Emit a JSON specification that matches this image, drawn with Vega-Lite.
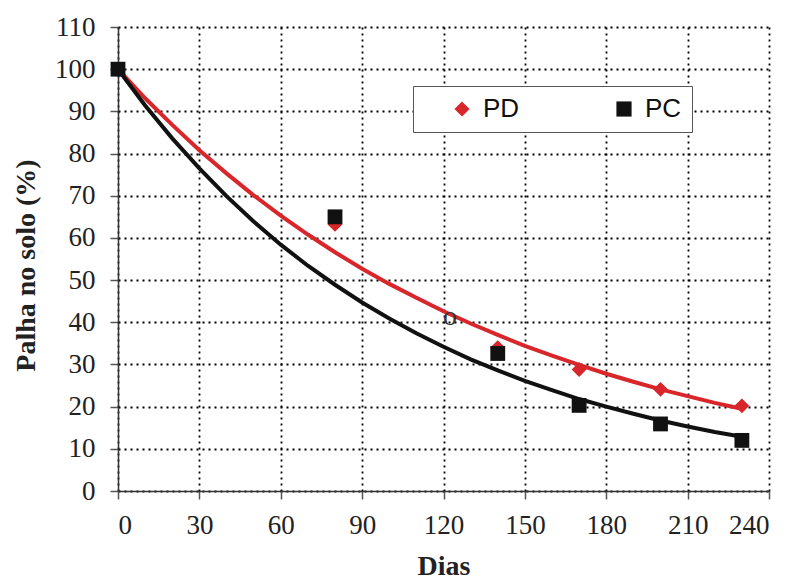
{
  "$schema": "https://vega.github.io/schema/vega-lite/v6.json",
  "width": 651,
  "height": 464,
  "autosize": "none",
  "padding": {"left": 118, "top": 27, "right": 23, "bottom": 90},
  "background": "white",
  "datasets": {
    "curves": [
      {"dias": 0, "palha": 100, "curva": "PD"},
      {"dias": 10, "palha": 93.1, "curva": "PD"},
      {"dias": 20, "palha": 86.8, "curva": "PD"},
      {"dias": 30, "palha": 80.8, "curva": "PD"},
      {"dias": 40, "palha": 75.3, "curva": "PD"},
      {"dias": 50, "palha": 70.1, "curva": "PD"},
      {"dias": 60, "palha": 65.3, "curva": "PD"},
      {"dias": 70, "palha": 60.8, "curva": "PD"},
      {"dias": 80, "palha": 56.6, "curva": "PD"},
      {"dias": 90, "palha": 52.7, "curva": "PD"},
      {"dias": 100, "palha": 49.1, "curva": "PD"},
      {"dias": 110, "palha": 45.8, "curva": "PD"},
      {"dias": 120, "palha": 42.6, "curva": "PD"},
      {"dias": 130, "palha": 39.7, "curva": "PD"},
      {"dias": 140, "palha": 37.0, "curva": "PD"},
      {"dias": 150, "palha": 34.4, "curva": "PD"},
      {"dias": 160, "palha": 32.1, "curva": "PD"},
      {"dias": 170, "palha": 29.9, "curva": "PD"},
      {"dias": 180, "palha": 27.8, "curva": "PD"},
      {"dias": 190, "palha": 25.9, "curva": "PD"},
      {"dias": 200, "palha": 24.1, "curva": "PD"},
      {"dias": 210, "palha": 22.5, "curva": "PD"},
      {"dias": 220, "palha": 20.9, "curva": "PD"},
      {"dias": 229, "palha": 19.6, "curva": "PD"},
      {"dias": 0, "palha": 100, "curva": "PC"},
      {"dias": 10, "palha": 91.4, "curva": "PC"},
      {"dias": 20, "palha": 83.6, "curva": "PC"},
      {"dias": 30, "palha": 76.5, "curva": "PC"},
      {"dias": 40, "palha": 69.9, "curva": "PC"},
      {"dias": 50, "palha": 63.9, "curva": "PC"},
      {"dias": 60, "palha": 58.4, "curva": "PC"},
      {"dias": 70, "palha": 53.4, "curva": "PC"},
      {"dias": 80, "palha": 48.9, "curva": "PC"},
      {"dias": 90, "palha": 44.7, "curva": "PC"},
      {"dias": 100, "palha": 40.9, "curva": "PC"},
      {"dias": 110, "palha": 37.4, "curva": "PC"},
      {"dias": 120, "palha": 34.2, "curva": "PC"},
      {"dias": 130, "palha": 31.2, "curva": "PC"},
      {"dias": 140, "palha": 28.6, "curva": "PC"},
      {"dias": 150, "palha": 26.1, "curva": "PC"},
      {"dias": 160, "palha": 23.9, "curva": "PC"},
      {"dias": 170, "palha": 21.8, "curva": "PC"},
      {"dias": 180, "palha": 20.0, "curva": "PC"},
      {"dias": 190, "palha": 18.3, "curva": "PC"},
      {"dias": 200, "palha": 16.7, "curva": "PC"},
      {"dias": 210, "palha": 15.3, "curva": "PC"},
      {"dias": 220, "palha": 14.0, "curva": "PC"},
      {"dias": 229, "palha": 13.0, "curva": "PC"}
    ],
    "points": [
      {"dias": 0, "palha": 100, "serie": "PD"},
      {"dias": 80, "palha": 63.2, "serie": "PD"},
      {"dias": 140, "palha": 34.0, "serie": "PD"},
      {"dias": 170, "palha": 28.8, "serie": "PD"},
      {"dias": 200, "palha": 24.1, "serie": "PD"},
      {"dias": 230, "palha": 20.2, "serie": "PD"},
      {"dias": 0, "palha": 100, "serie": "PC"},
      {"dias": 80, "palha": 65.0, "serie": "PC"},
      {"dias": 140, "palha": 32.6, "serie": "PC"},
      {"dias": 170, "palha": 20.3, "serie": "PC"},
      {"dias": 200, "palha": 15.9, "serie": "PC"},
      {"dias": 230, "palha": 12.0, "serie": "PC"}
    ],
    "note": [
      {"dias": 122.4, "palha": 41.3, "texto": "o"}
    ]
  },
  "config": {
    "view": {"stroke": null},
    "axis": {
      "labelFont": "Liberation Serif",
      "labelFontSize": 27,
      "labelColor": "#222",
      "titleFont": "Liberation Serif",
      "titleFontSize": 28,
      "titleFontWeight": "bold",
      "titleColor": "#222",
      "domainColor": "#333",
      "domainWidth": 1.5,
      "tickColor": "#555",
      "tickWidth": 1.5,
      "tickSize": 8,
      "grid": true,
      "gridColor": "#000",
      "gridDash": [2, 4],
      "gridWidth": 1.8,
      "gridOpacity": 1
    }
  },
  "encoding": {
    "x": {
      "field": "dias", "type": "quantitative",
      "scale": {"domain": [0, 240], "nice": false},
      "axis": {"values": [0, 30, 60, 90, 120, 150, 180, 210, 240], "title": "Dias", "labelPadding": 13, "titleY": 75, "titleBaseline": "middle"}
    },
    "y": {
      "field": "palha", "type": "quantitative",
      "scale": {"domain": [0, 110], "nice": false},
      "axis": {"values": [0, 10, 20, 30, 40, 50, 60, 70, 80, 90, 100, 110], "title": "Palha no solo (%)", "labelPadding": 15, "titleX": -84, "titleY": 238, "titleBaseline": "alphabetic"}
    }
  },
  "layer": [
    {
      "data": {"name": "curves"},
      "transform": [{"filter": "datum.curva === 'PD'"}],
      "mark": {"type": "line", "strokeWidth": 4, "color": "#d8262a"}
    },
    {
      "data": {"name": "curves"},
      "transform": [{"filter": "datum.curva === 'PC'"}],
      "mark": {"type": "line", "strokeWidth": 4, "color": "#111111"}
    },
    {
      "data": {"name": "points"},
      "mark": {"type": "point", "filled": true, "opacity": 1, "size": 220},
      "encoding": {
        "color": {
          "field": "serie", "type": "nominal",
          "scale": {"domain": ["PD", "PC"], "range": ["#d8262a", "#111111"]},
          "legend": {
            "title": null,
            "orient": "none",
            "legendX": 295,
            "legendY": 59,
            "direction": "horizontal",
            "fillColor": "white",
            "strokeColor": "#555",
            "padding": 10,
            "columnPadding": 65,
            "labelFont": "Liberation Sans",
            "labelFontSize": 26,
            "labelColor": "#111",
            "labelOffset": 8,
            "symbolSize": 230,
            "symbolStrokeWidth": 0,
            "symbolOffset": 26
          }
        },
        "shape": {
          "field": "serie", "type": "nominal",
          "scale": {"domain": ["PD", "PC"], "range": ["diamond", "square"]},
          "legend": {
            "title": null,
            "orient": "none",
            "legendX": 295,
            "legendY": 59,
            "direction": "horizontal",
            "fillColor": "white",
            "strokeColor": "#555",
            "padding": 10,
            "columnPadding": 65,
            "labelFont": "Liberation Sans",
            "labelFontSize": 26,
            "labelColor": "#111",
            "labelOffset": 8,
            "symbolSize": 230,
            "symbolStrokeWidth": 0,
            "symbolOffset": 26
          }
        }
      }
    },
    {
      "data": {"name": "note"},
      "mark": {"type": "text", "font": "Liberation Serif", "fontSize": 28, "color": "#333", "baseline": "middle", "align": "center"},
      "encoding": {
        "text": {"field": "texto"}
      }
    }
  ]
}
